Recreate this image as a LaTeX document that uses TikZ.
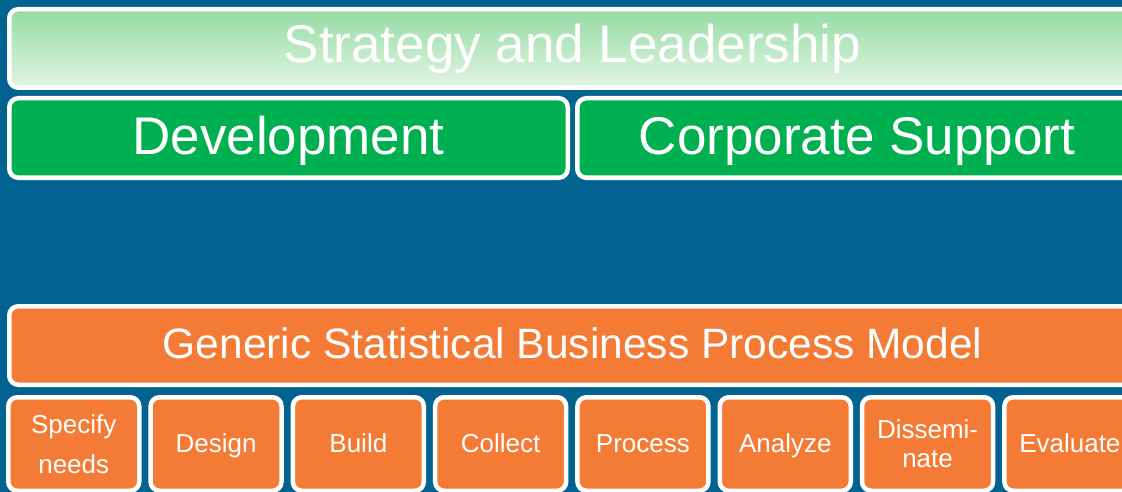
\documentclass[tikz,border=0pt]{standalone}
\usepackage{fontspec}
\setmainfont{Liberation Sans}
\definecolor{bgblue}{RGB}{2,99,145}
\definecolor{boxgreen}{RGB}{0,176,80}
\definecolor{boxorange}{RGB}{244,123,54}
\definecolor{gradtop}{RGB}{148,219,163}
\definecolor{gradbot}{RGB}{228,245,229}
\tikzset{
  panel/.style={draw=white, line width=4.5pt, rounded corners=9pt, inner sep=0pt,
    text=white, anchor=center},
  bigtext/.style={font=\fontsize{53}{60}\selectfont, text height=38pt, text depth=4pt},
  gsbpmtext/.style={font=\fontsize{42.5}{50}\selectfont, text height=29pt, text depth=4pt},
  stagebox/.style={panel, fill=boxorange, minimum width=131pt, minimum height=93.5pt,
    align=center},
  oneline/.style={font=\fontsize{26}{31}\selectfont, text height=20pt, text depth=2.6pt},
}
\begin{document}
\begin{tikzpicture}[x=1pt,y=-1pt]
\useasboundingbox (0,0) rectangle (1122,492);
\clip (0,0) rectangle (1122,492);
\fill[bgblue] (0,0) rectangle (1122,492);
\node[panel, bigtext, text height=33pt, top color=gradtop, bottom color=gradbot,
  minimum width=1126.5pt, minimum height=78.5pt] (strat) at (572.5,48.5) {Strategy and Leadership};
\node[panel, bigtext, fill=boxgreen, minimum width=558.5pt, minimum height=79.5pt]
  (dev) at (288.5,138) {Development};
\node[panel, bigtext, fill=boxgreen, minimum width=559.5pt, minimum height=79.5pt]
  (corp) at (857,138) {Corporate Support};
\node[panel, gsbpmtext, fill=boxorange, minimum width=1126.5pt, minimum height=78.5pt]
  (gsbpm) at (572.5,345.5) {Generic Statistical Business Process Model};
\node[stagebox, font=\fontsize{26}{40}\selectfont] (s1) at (73.75,444) {Specify\\needs};
\node[stagebox, oneline] (s2) at (216.05,444) {Design};
\node[stagebox, oneline] (s3) at (358.35,444) {Build};
\node[stagebox, oneline] (s4) at (500.65,444) {Collect};
\node[stagebox, oneline] (s5) at (642.95,444) {Process};
\node[stagebox, oneline] (s6) at (785.25,444) {Analyze};
\node[stagebox, font=\fontsize{26}{29}\selectfont] (s7) at (927.55,444) {Dissemi-\\nate};
\node[stagebox, oneline] (s8) at (1069.85,444) {Evaluate};
\end{tikzpicture}
\end{document}
